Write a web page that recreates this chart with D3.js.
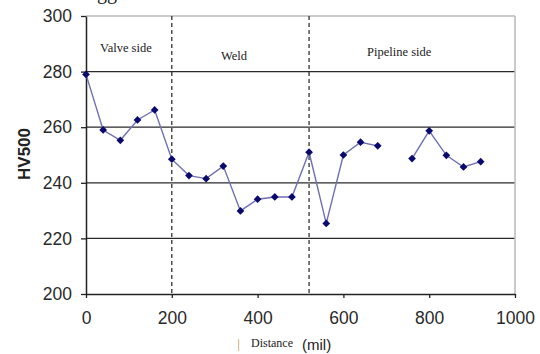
<!DOCTYPE html>
<html><head><meta charset="utf-8">
<script src="https://cdn.jsdelivr.net/npm/d3@7"></script>
<style>body{margin:0;background:#fff;}svg{display:block;}</style>
</head><body>
<svg id="c" width="540" height="354"></svg>
<script>
const distance = [0,40,80,120,160,200,240,280,320,360,400,440,480,520,560,600,640,680,720,760,800,840,880,920];
const hv500 = [279,259,255.3,262.6,266.2,248.5,242.6,241.5,246,229.9,234.1,234.9,234.9,251,225.4,250,254.6,253.3,null,248.7,258.7,249.9,245.7,247.6];
const xTicks = [0,200,400,600,800,1000];
const yTicks = [200,220,240,260,280,300];
const regionBounds = [200,520];
const regions = [{name:"Valve side", x:93, y:287}, {name:"Weld", x:345, y:284}, {name:"Pipeline side", x:730, y:285.5}];

const svg = d3.select("#c");
const m = {l:86, r:515, t:16, b:294};
const x = d3.scaleLinear().domain([0,1000]).range([m.l,m.r]);
const y = d3.scaleLinear().domain([200,300]).range([m.b,m.t]);

// clipped text from page above
svg.append("text").attr("x",97).attr("y",-1).attr("font-family","Liberation Serif, serif").attr("font-size",20).attr("fill","#222").text("gg");

// gridlines
svg.append("g").selectAll("line").data(yTicks.filter(d=>d>200 && d<300)).join("line")
  .attr("x1",m.l).attr("x2",m.r).attr("y1",d=>y(d)).attr("y2",d=>y(d))
  .attr("stroke","#2a2a2a").attr("stroke-width",1.3);
// top and right border
svg.append("line").attr("x1",m.l).attr("x2",m.r).attr("y1",y(300)).attr("y2",y(300)).attr("stroke","#b8b8b8").attr("stroke-width",1.3);
svg.append("line").attr("x1",m.r).attr("x2",m.r).attr("y1",m.t).attr("y2",m.b).attr("stroke","#b8b8b8").attr("stroke-width",1.5);

// dashed region bounds
svg.append("g").selectAll("line").data(regionBounds).join("line")
  .attr("x1",d=>x(d)).attr("x2",d=>x(d)).attr("y1",m.t).attr("y2",m.b)
  .attr("stroke","#222").attr("stroke-width",1.2).attr("stroke-dasharray","4,3");

// region labels
svg.append("g").selectAll("text").data(regions).join("text")
  .attr("x",d=>x(d.x)).attr("y",d=>y(d.y)).attr("text-anchor","middle")
  .attr("font-family","Liberation Serif, serif").attr("font-size",12.5).attr("fill","#222")
  .text(d=>d.name);

// axes
const xa = svg.append("g").attr("transform",`translate(0,${m.b})`)
  .call(d3.axisBottom(x).tickValues(xTicks).tickFormat(d3.format("d")).tickSize(4).tickPadding(14).tickSizeOuter(0));
const ya = svg.append("g").attr("transform",`translate(${m.l},0)`)
  .call(d3.axisLeft(y).tickValues(yTicks).tickFormat(d3.format("d")).tickSize(5).tickPadding(9).tickSizeOuter(0));
[xa,ya].forEach(a=>{
  a.select(".domain").attr("stroke","#222").attr("stroke-width",1.5);
  a.selectAll(".tick line").attr("stroke","#222").attr("stroke-width",1.3);
  a.selectAll(".tick text").attr("font-family","Liberation Sans, Arial, sans-serif").attr("font-size",17.5).attr("fill","#2a2a2a");
});

// line
const line = d3.line().defined(d=>d[1]!=null).x(d=>x(d[0])).y(d=>y(d[1]));
const pts = distance.map((d,i)=>[d,hv500[i]]);
svg.append("path").datum(pts).attr("d",line).attr("fill","none").attr("stroke","#6f6fb4").attr("stroke-width",1.4);
svg.append("g").selectAll("path").data(pts.filter(d=>d[1]!=null)).join("path")
  .attr("d",d3.symbol(d3.symbolSquare,30)).attr("transform",d=>`translate(${x(d[0])},${y(d[1])}) rotate(45)`)
  .attr("fill","#0a0a6e");

// y label
svg.append("text").attr("transform",`translate(30,${154}) rotate(-90)`).attr("text-anchor","middle")
  .attr("font-family","Liberation Sans, Arial, sans-serif").attr("font-weight","bold").attr("font-size",17).attr("fill","#222").text("HV500");

// x label
svg.append("rect").attr("x",238).attr("y",339).attr("width",1.2).attr("height",12).attr("fill","#d9bf95");
svg.append("text").attr("x",251).attr("y",347).attr("font-family","Liberation Serif, serif").attr("font-size",12).attr("fill","#222").text("Distance");
svg.append("text").attr("x",302).attr("y",350).attr("font-family","Liberation Sans, Arial, sans-serif").attr("font-size",15).attr("fill","#222").text("(mil)");
</script>
</body></html>
